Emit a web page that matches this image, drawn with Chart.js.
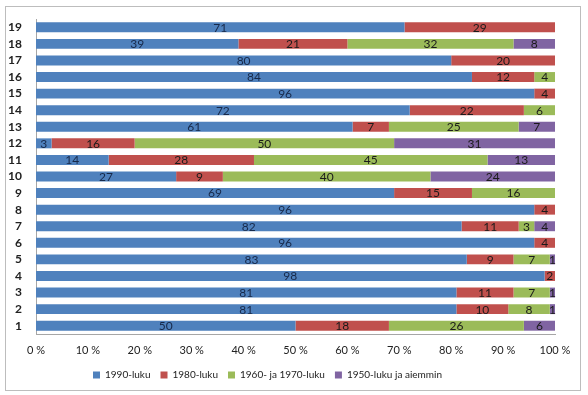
<!DOCTYPE html>
<html><head><meta charset="utf-8">
<script src="https://cdn.jsdelivr.net/npm/chart.js@4"></script>
<style>html,body{margin:0;padding:0;background:#fff}#w{width:588px;height:395px}</style>
</head><body><div id="w"><canvas id="c" width="588" height="395"></canvas></div>
<script>
const categories = ['1','2','3','4','5','6','7','8','9','10','11','12','13','14','15','16','17','18','19'];
const s1990 = [50,81,81,98,83,96,82,96,69,27,14,3,61,72,96,84,80,39,71];
const s1980 = [18,10,11,2,9,4,11,4,15,9,28,16,7,22,4,12,20,21,29];
const s1960 = [26,8,7,0,7,0,3,0,16,40,45,50,25,6,0,4,0,32,0];
const s1950 = [6,1,1,0,1,0,4,0,0,24,13,31,7,0,0,0,0,8,0];
const seriesNames = ['1990-luku','1980-luku','1960- ja 1970-luku','1950-luku ja aiemmin'];
const xTicks = [0,10,20,30,40,50,60,70,80,90,100];

const colors = ['#4F81BD','#C0504D','#9BBB59','#8064A2'];
const labelColors = ['#17294a','#1a1a1a','#1a1a1a','#1a1a1a'];
const FONT = 'Lato, "Open Sans", sans-serif';

const frame = {
  id:'frame',
  beforeDraw(chart){
    const c = chart.ctx; c.save();
    c.fillStyle='#fff'; c.fillRect(0,0,chart.width,chart.height);
    c.strokeStyle='#bdbdbd'; c.lineWidth=1;
    c.strokeRect(5.5,6.5,575,384);
    c.restore();
  }
};
const shiftLegend = {
  id:'shiftLegend',
  afterLayout(chart){
    if(chart.legend){ chart.legend.left -= 14; chart.legend.right -= 14; }
  }
};
const labels = {
  id:'labels',
  afterDatasetsDraw(chart){
    const c = chart.ctx; c.save();
    c.font = '12px '+FONT; c.textAlign='center'; c.textBaseline='middle';
    chart.data.datasets.forEach((ds,i)=>{
      const meta = chart.getDatasetMeta(i);
      meta.data.forEach((bar,j)=>{
        const v = ds.data[j]; if(!v) return;
        const x = (bar.x + bar.base)/2;
        c.fillStyle = labelColors[i];
        c.fillText(String(v), x, bar.y+0.5);
      });
    });
    c.restore();
  }
};

new Chart(document.getElementById('c'),{
  type:'bar',
  data:{
    labels:categories,
    datasets:[s1990,s1980,s1960,s1950].map((d,i)=>({
      label:seriesNames[i], data:d, backgroundColor:colors[i],
      barPercentage:0.6, categoryPercentage:1, borderWidth:0
    }))
  },
  options:{
    indexAxis:'y', responsive:false, animation:false, devicePixelRatio:1,
    layout:{padding:{left:8,right:33,top:19,bottom:5}},
    plugins:{
      legend:{position:'bottom',labels:{boxWidth:7,boxHeight:7,padding:10,color:'#222',font:{family:FONT,size:10}}},
      tooltip:{enabled:false}
    },
    scales:{
      x:{stacked:true,min:0,max:100,
        afterBuildTicks(s){ s.ticks = xTicks.map(v=>({value:v})); },
        afterFit(s){ s.height = 26; },
        grid:{display:false}, border:{display:true,color:'#a6a6a6'},
        ticks:{callback:v=>v+' %',color:'#222',font:{family:FONT,size:11},maxRotation:0,padding:2}},
      y:{stacked:true,reverse:true,
        afterFit(s){ s.width = 28; },
        grid:{display:false}, border:{display:true,color:'#a6a6a6'},
        ticks:{autoSkip:false,color:'#222',font:{family:FONT,size:12,weight:'bold'},padding:6}}
    }
  },
  plugins:[frame,shiftLegend,labels]
});
</script></body></html>
